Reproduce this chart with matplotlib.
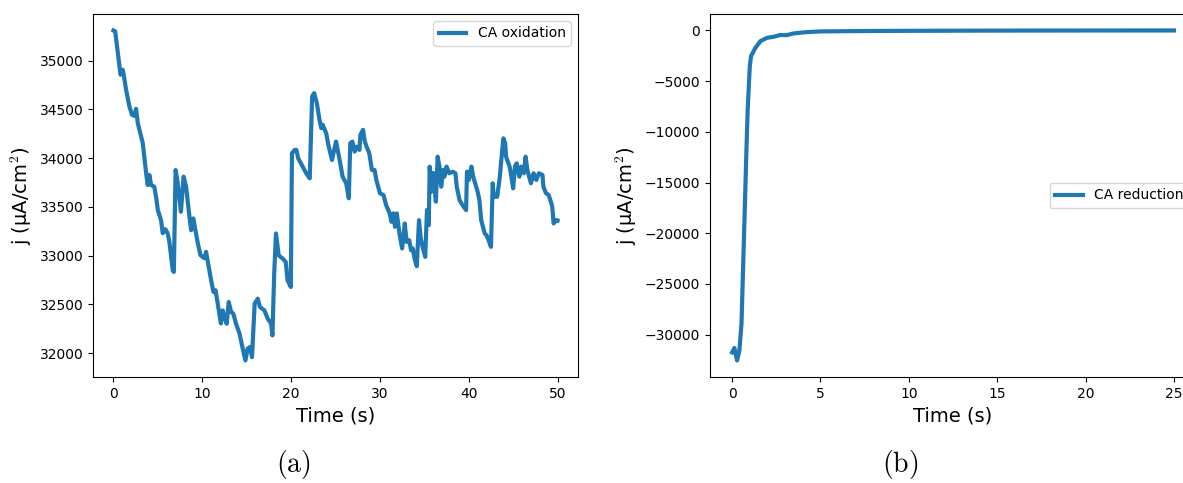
import matplotlib
matplotlib.use("Agg")
import matplotlib.pyplot as plt

plt.rcParams['mathtext.fontset'] = 'cm'

# CA oxidation (a)
t_ox = [0.0, 0.2, 0.6, 0.8, 1.05, 1.16, 1.43, 1.8, 2.1, 2.36, 2.55, 2.74, 2.93, 3.3, 3.68, 3.86,
        4.05, 4.24, 4.6, 4.8, 5.0, 5.36, 5.55, 5.85, 6.1, 6.3, 6.68, 6.8, 7.0, 7.24, 7.6, 7.9,
        8.18, 8.56, 8.75, 9.0, 9.23, 9.5, 9.8, 10.25, 10.43, 10.6, 11.0, 11.26, 11.5, 11.74,
        12.1, 12.3, 12.5, 12.75, 12.98, 13.25, 13.5, 13.8, 14.2, 14.56, 14.86, 15.1, 15.37,
        15.6, 15.9, 16.25, 16.5, 17.0, 17.37, 17.75, 17.9, 18.1, 18.3, 18.6, 19.05, 19.4, 19.6,
        19.97, 20.1, 20.4, 20.6, 20.8, 21.3, 21.7, 22.1, 22.37, 22.6, 22.9, 23.2, 23.4, 23.56,
        23.95, 24.2, 24.6, 25.06, 25.4, 25.8, 26.2, 26.5, 26.66, 26.9, 27.15, 27.4, 27.7, 27.8,
        28.1, 28.3, 28.5, 28.8, 29.1, 29.4, 29.6, 30.0, 30.4, 30.7, 31.1, 31.3, 31.5, 31.7,
        31.9, 32.2, 32.5, 32.8, 33.0, 33.3, 33.5, 33.7, 33.9, 34.15, 34.4, 34.6, 34.8, 35.1,
        35.3, 35.5, 35.6, 35.8, 36.0, 36.3, 36.5, 36.7, 36.9, 37.1, 37.26, 37.5, 37.8, 38.2,
        38.5, 38.65, 38.96, 39.3, 39.7, 39.8, 40.0, 40.3, 40.5, 41.0, 41.2, 41.4, 41.8, 42.0,
        42.3, 42.5, 42.7, 42.8, 43.2, 43.5, 43.7, 43.9, 44.1, 44.2, 44.6, 44.8, 45.0, 45.2,
        45.4, 45.5, 45.7, 45.9, 46.2, 46.4, 46.6, 46.8, 47.0, 47.3, 47.6, 47.9, 48.3, 48.4,
        48.7, 49.0, 49.3, 49.4, 49.55, 49.85, 50.0]
j_ox = [35310, 35300, 35010, 34856, 34907, 34856, 34700, 34530, 34444, 34434, 34506, 34362, 34290,
        34156, 33848, 33724, 33827, 33724, 33707, 33604, 33467, 33364, 33230, 33271, 33230, 33141,
        32850, 32832, 33878, 33745, 33450, 33810, 33707, 33398, 33261, 33381, 33261, 33127, 33004,
        32973, 33038, 32952, 32747, 32627, 32644, 32507, 32304, 32438, 32370, 32301, 32524, 32421,
        32404, 32301, 32198, 32044, 31924, 32044, 32061, 31958, 32507, 32558, 32472, 32438, 32353,
        32301, 32181, 32818, 33227, 33004, 32970, 32935, 32747, 32678, 34050, 34084, 34084, 33999,
        33913, 33845, 33793, 34633, 34667, 34564, 34393, 34307, 34342, 34256, 34136, 33981, 34170,
        34015, 33810, 33742, 33588, 34153, 34170, 34067, 34118, 34084, 34239, 34290, 34170, 34118,
        34050, 33878, 33878, 33776, 33640, 33621, 33518, 33433, 33347, 33433, 33296, 33433, 33227,
        33073, 33330, 33141, 33158, 33056, 33073, 32970, 32891, 33364, 33176, 33090, 32987, 33467,
        33313, 33913, 33656, 33848, 33553, 34015, 33913, 33707, 33878, 33810, 33913, 33845, 33861,
        33845, 33707, 33570, 33518, 33467, 33861, 33776, 33913, 33810, 33656, 33570, 33364, 33227,
        33210, 33141, 33090, 33742, 33604, 33604, 33810, 34015, 34204, 34153, 34015, 33913, 33810,
        33690, 33913, 33947, 33878, 33810, 33913, 33845, 34015, 33878, 33810, 33742, 33845, 33776,
        33845, 33827, 33707, 33640, 33621, 33536, 33501, 33330, 33364, 33360]

# CA reduction (b)
t_red = [0, 0.13, 0.28, 0.41, 0.53, 0.66, 0.81, 0.88, 1.0, 1.07, 1.32, 1.6, 1.97, 2.35, 2.7,
         3.1, 3.47, 4.2, 5.0, 7.5, 10, 15, 20, 25]
j_red = [-31750, -31320, -32550, -31580, -28940, -21020, -11780, -7820, -3530, -2540, -1710,
         -1060, -730, -630, -460, -460, -300, -170, -100, -60, -40, -20, -10, -5]

fig = plt.figure(figsize=(11.83, 4.83), dpi=100)

ax1 = fig.add_axes([0.0786, 0.2195, 0.41, 0.7516])
ax1.plot(t_ox, j_ox, lw=3, color='#1f77b4', label='CA oxidation')
ax1.set_xlim(-2.3, 52.3)
ax1.set_xlabel('Time (s)', fontsize=14)
ax1.set_ylabel(r'j ($\mathregular{\mu}$A/cm$^2$)', fontsize=14)
ax1.legend(loc='upper right')

ax2 = fig.add_axes([0.6002, 0.2195, 0.4108, 0.7516])
ax2.plot(t_red, j_red, lw=3, color='#1f77b4', label='CA reduction')
ax2.set_xlabel('Time (s)', fontsize=14)
ax2.set_ylabel(r'j ($\mathregular{\mu}$A/cm$^2$)', fontsize=14)
ax2.legend(loc='center right')

# sub-figure captions
fig.text(0.2477, 0.022, r'$\mathrm{(a)}$', fontsize=20, ha='center')
fig.text(0.7608, 0.022, r'$\mathrm{(b)}$', fontsize=20, ha='center')

fig.savefig('out.png', dpi=100)
